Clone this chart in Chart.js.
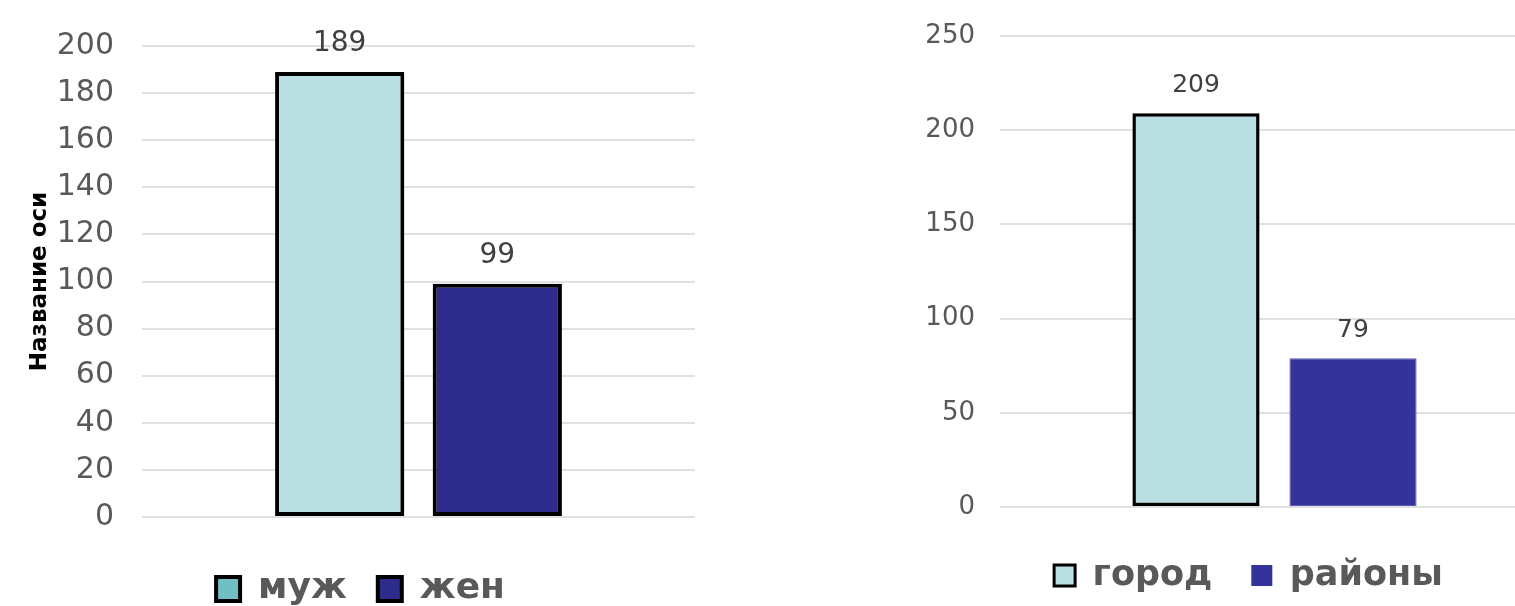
<!DOCTYPE html>
<html>
<head>
<meta charset="utf-8">
<script src="https://cdn.jsdelivr.net/npm/chart.js@4.4.0/dist/chart.umd.min.js"></script>
<style>
    html, body { margin: 0; padding: 0; background: #fff; overflow: hidden; }
    body { width: 1515px; height: 606px; position: relative; }
    .box { position: absolute; top: 0; height: 606px; }
    #left-box { left: 0; width: 740px; }
    #right-box { left: 880px; width: 697px; }
</style>
</head>
<body>
<div class="box" id="left-box"><canvas id="leftChart"></canvas></div>
<div class="box" id="right-box"><canvas id="rightChart"></canvas></div>
<script>
// Левая диаграмма: пол
const sexCategories = [ 'муж', 'жен' ]
const sexValues = [ 189, 99 ]
const sexTicks = { min: 0, max: 200, step: 20 }

// Правая диаграмма: город / районы
const placeCategories = [ 'город', 'районы' ]
const placeValues = [ 209, 79 ]
const placeTicks = { min: 0, max: 250, step: 50 }

const lightFill = '#bbe0e3'
const gridColor = '#e0e0e0'
const tickColor = '#595959'

Chart.defaults.font.family = '"DejaVu Sans"'
Chart.defaults.animation = false

const valueLabels = {
    id: 'valueLabels',
    afterDatasetsDraw ( chart, args, opts ) {
        const { ctx } = chart
        ctx.save()
        ctx.font = `${ opts.size }px "DejaVu Sans"`
        ctx.fillStyle = '#404040'
        ctx.textAlign = 'center'
        ctx.textBaseline = 'middle'
        chart.data.datasets.forEach( ( ds, i ) => {
            const bar = chart.getDatasetMeta( i ).data[ 0 ]
            ctx.fillText( ds.data[ 0 ], bar.x, bar.y - opts.offset )
        } )
        ctx.restore()
    }
}

function legendLabels ( fills, strokes, widths ) {
    return function ( chart ) {
        const items = Chart.defaults.plugins.legend.labels.generateLabels( chart )
        items.forEach( ( item, i ) => {
            item.fillStyle = fills[ i ]
            item.strokeStyle = strokes[ i ]
            item.lineWidth = widths[ i ]
        } )
        return items
    }
}

// fixed axis sizes, no extra padding from tick labels
function fixWidth ( w ) {
    return function ( axis ) {
        axis.width = w
        axis.paddingTop = 0
        axis.paddingBottom = 0
    }
}

const hiddenX = h => ( {
    ticks: { display: false },
    grid: { display: false },
    border: { display: false },
    afterFit ( axis ) { axis.height = h }
} )

// ---------- left ----------
new Chart( document.getElementById( 'leftChart' ), {
    type: 'bar',
    data: {
        labels: [ '' ],
        datasets: sexCategories.map( ( name, i ) => ( {
            label: name,
            data: [ sexValues[ i ] ],
            backgroundColor: [ lightFill, '#2e2c8a' ][ i ],
            borderColor: '#000',
            borderWidth: 4,
            borderSkipped: false,
            categoryPercentage: 0.57,
            barPercentage: 0.82
        } ) )
    },
    options: {
        responsive: true,
        maintainAspectRatio: false,
        layout: { padding: { left: 26, right: 45, top: 46, bottom: 0 } },
        scales: {
            x: hiddenX( 23 ),
            y: {
                min: sexTicks.min,
                max: sexTicks.max,
                ticks: { stepSize: sexTicks.step, color: tickColor, padding: 28, font: { size: 30 } },
                grid: { color: gridColor, lineWidth: 2, drawTicks: false },
                border: { display: false },
                title: {
                    display: true,
                    text: 'Название оси',
                    color: '#000',
                    padding: 0,
                    font: { size: 23, weight: 'bold' }
                },
                afterFit: fixWidth( 116 )
            }
        },
        plugins: {
            tooltip: { enabled: false },
            legend: {
                position: 'bottom',
                maxHeight: 66,
                labels: {
                    color: tickColor,
                    padding: 31,
                    boxWidth: 24,
                    boxHeight: 24,
                    font: { size: 36, weight: 'bold' },
                    generateLabels: legendLabels( [ '#70bfc4', '#2e2c8a' ], [ '#000', '#000' ], [ 4, 4 ] )
                }
            },
            valueLabels: { size: 28, offset: 28 }
        }
    },
    plugins: [ valueLabels ]
} )

// ---------- right ----------
new Chart( document.getElementById( 'rightChart' ), {
    type: 'bar',
    data: {
        labels: [ '' ],
        datasets: placeCategories.map( ( name, i ) => ( {
            label: name,
            data: [ placeValues[ i ] ],
            backgroundColor: [ lightFill, '#333399' ][ i ],
            borderColor: [ '#000', '#5b5bbb' ][ i ],
            borderWidth: [ 3.5, 1 ][ i ],
            borderSkipped: false,
            categoryPercentage: 0.572,
            barPercentage: 0.81
        } ) )
    },
    options: {
        responsive: true,
        maintainAspectRatio: false,
        layout: { padding: { left: 40, right: 0, top: 36, bottom: 3 } },
        scales: {
            x: hiddenX( 12 ),
            y: {
                min: placeTicks.min,
                max: placeTicks.max,
                ticks: { stepSize: placeTicks.step, color: tickColor, padding: 25, font: { size: 26 } },
                grid: { color: gridColor, lineWidth: 2, drawTicks: false },
                border: { display: false },
                afterFit: fixWidth( 80 )
            },
            // empty spacer on the right so the legend sits where it does in the picture
            spacer: {
                type: 'linear',
                position: 'right',
                ticks: { display: false },
                grid: { display: false },
                border: { display: false },
                afterFit: fixWidth( 28 )
            }
        },
        plugins: {
            tooltip: { enabled: false },
            legend: {
                position: 'bottom',
                labels: {
                    color: tickColor,
                    padding: 39,
                    boxWidth: 21,
                    boxHeight: 21,
                    font: { size: 35, weight: 'bold' },
                    generateLabels: legendLabels( [ lightFill, '#333399' ], [ '#000', '#333399' ], [ 3, 0 ] )
                }
            },
            valueLabels: { size: 25, offset: 28 }
        }
    },
    plugins: [ valueLabels ]
} )
</script>
</body>
</html>
